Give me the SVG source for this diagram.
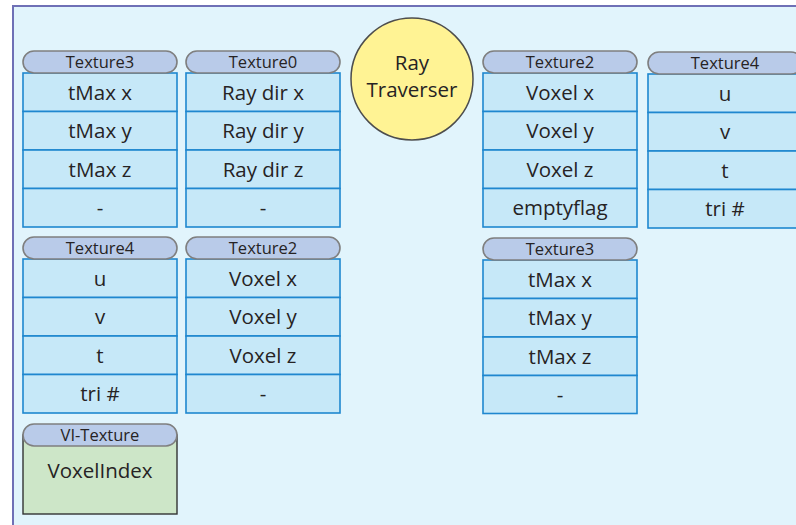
<svg xmlns="http://www.w3.org/2000/svg" width="796" height="525" viewBox="0 0 796 525">
<style>
.cell{fill:#C6E8F8;stroke:#1F87CF;stroke-width:1.6}
.pill{fill:#B9CBE9;stroke:#7F7F7F;stroke-width:1.6}
.ct{font-family:"Open Sans","Noto Sans",sans-serif;font-size:20.5px;fill:#262324;text-anchor:middle}
.ht{font-family:"Open Sans","Noto Sans",sans-serif;font-size:16.5px;fill:#262324;text-anchor:middle}
</style>
<rect x="0" y="0" width="796" height="525" fill="#FFFFFF"/>
<rect x="13" y="6" width="800" height="530" fill="#E1F4FC" stroke="#6F70B6" stroke-width="2"/>

<g id="col1-texture3">
<rect class="cell" x="23" y="73" width="154" height="38.5"/>
<rect class="cell" x="23" y="111.5" width="154" height="38.5"/>
<rect class="cell" x="23" y="150" width="154" height="38.5"/>
<rect class="cell" x="23" y="188.5" width="154" height="38.5"/>
<rect class="pill" x="23" y="51" width="154" height="22" rx="11"/>
<text class="ht" x="100" y="67.5">Texture3</text>
<text class="ct" x="100" y="99.5">tMax x</text>
<text class="ct" x="100" y="138">tMax y</text>
<text class="ct" x="100" y="176.5">tMax z</text>
<text class="ct" x="100" y="215">-</text>
</g>

<g id="col2-texture0">
<rect class="cell" x="186" y="73" width="154" height="38.5"/>
<rect class="cell" x="186" y="111.5" width="154" height="38.5"/>
<rect class="cell" x="186" y="150" width="154" height="38.5"/>
<rect class="cell" x="186" y="188.5" width="154" height="38.5"/>
<rect class="pill" x="186" y="51" width="154" height="22" rx="11"/>
<text class="ht" x="263" y="67.5">Texture0</text>
<text class="ct" x="263" y="99.5">Ray dir x</text>
<text class="ct" x="263" y="138">Ray dir y</text>
<text class="ct" x="263" y="176.5">Ray dir z</text>
<text class="ct" x="263" y="215">-</text>
</g>

<g id="ray-traverser">
<circle cx="412" cy="79" r="61" fill="#FFF394" stroke="#4D4D4D" stroke-width="1.5"/>
<text class="ct" x="412" y="70">Ray</text>
<text class="ct" x="412" y="97">Traverser</text>
</g>

<g id="col3-texture2">
<rect class="cell" x="483" y="73" width="154" height="38.5"/>
<rect class="cell" x="483" y="111.5" width="154" height="38.5"/>
<rect class="cell" x="483" y="150" width="154" height="38.5"/>
<rect class="cell" x="483" y="188.5" width="154" height="38.5"/>
<rect class="pill" x="483" y="51" width="154" height="22" rx="11"/>
<text class="ht" x="560" y="67.5">Texture2</text>
<text class="ct" x="560" y="99.5">Voxel x</text>
<text class="ct" x="560" y="138">Voxel y</text>
<text class="ct" x="560" y="176.5">Voxel z</text>
<text class="ct" x="560" y="215">emptyflag</text>
</g>

<g id="col4-texture4">
<rect class="cell" x="648" y="74" width="154" height="38.5"/>
<rect class="cell" x="648" y="112.5" width="154" height="38.5"/>
<rect class="cell" x="648" y="151" width="154" height="38.5"/>
<rect class="cell" x="648" y="189.5" width="154" height="38.5"/>
<rect class="pill" x="648" y="52" width="154" height="22" rx="11"/>
<text class="ht" x="725" y="68.5">Texture4</text>
<text class="ct" x="725" y="100.5">u</text>
<text class="ct" x="725" y="139">v</text>
<text class="ct" x="725" y="177.5">t</text>
<text class="ct" x="725" y="216">tri #</text>
</g>

<g id="row2-texture4">
<rect class="cell" x="23" y="259" width="154" height="38.5"/>
<rect class="cell" x="23" y="297.5" width="154" height="38.5"/>
<rect class="cell" x="23" y="336" width="154" height="38.5"/>
<rect class="cell" x="23" y="374.5" width="154" height="38.5"/>
<rect class="pill" x="23" y="237" width="154" height="22" rx="11"/>
<text class="ht" x="100" y="253.5">Texture4</text>
<text class="ct" x="100" y="285.5">u</text>
<text class="ct" x="100" y="324">v</text>
<text class="ct" x="100" y="362.5">t</text>
<text class="ct" x="100" y="401">tri #</text>
</g>

<g id="row2-texture2">
<rect class="cell" x="186" y="259" width="154" height="38.5"/>
<rect class="cell" x="186" y="297.5" width="154" height="38.5"/>
<rect class="cell" x="186" y="336" width="154" height="38.5"/>
<rect class="cell" x="186" y="374.5" width="154" height="38.5"/>
<rect class="pill" x="186" y="237" width="154" height="22" rx="11"/>
<text class="ht" x="263" y="253.5">Texture2</text>
<text class="ct" x="263" y="285.5">Voxel x</text>
<text class="ct" x="263" y="324">Voxel y</text>
<text class="ct" x="263" y="362.5">Voxel z</text>
<text class="ct" x="263" y="401">-</text>
</g>

<g id="row2-texture3">
<rect class="cell" x="483" y="260" width="154" height="38.5"/>
<rect class="cell" x="483" y="298.5" width="154" height="38.5"/>
<rect class="cell" x="483" y="337" width="154" height="38.5"/>
<rect class="cell" x="483" y="375.5" width="154" height="38"/>
<rect class="pill" x="483" y="238" width="154" height="22" rx="11"/>
<text class="ht" x="560" y="254.5">Texture3</text>
<text class="ct" x="560" y="286.5">tMax x</text>
<text class="ct" x="560" y="325">tMax y</text>
<text class="ct" x="560" y="363.5">tMax z</text>
<text class="ct" x="560" y="402">-</text>
</g>

<g id="vi-texture">
<rect x="23" y="435" width="154" height="79" fill="#CDE6C8" stroke="#333333" stroke-width="1.4"/>
<rect class="pill" x="23" y="424" width="154" height="22" rx="11"/>
<text class="ht" x="100" y="440.5">VI-Texture</text>
<text class="ct" x="100" y="478">VoxelIndex</text>
</g>
<g id="connectors"/>
</svg>
